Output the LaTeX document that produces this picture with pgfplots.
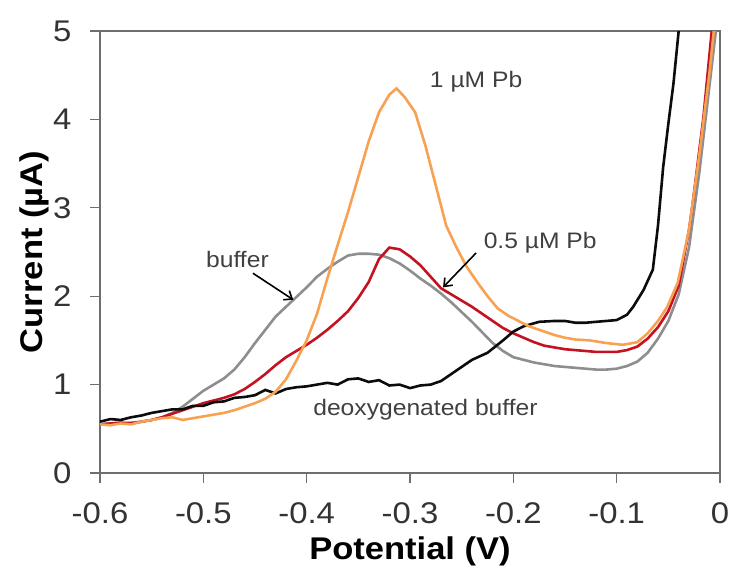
\documentclass[border=0pt]{standalone}
\usepackage{fontspec}
\setmainfont{Liberation Sans}[FakeStretch=1.1]
\usepackage{pgfplots}
\pgfplotsset{compat=1.18}
\usetikzlibrary{arrows.meta}
\definecolor{cOrange}{RGB}{247,162,82}
\definecolor{cRed}{RGB}{196,18,34}
\definecolor{cGray}{RGB}{142,142,142}
\definecolor{cBlack}{RGB}{12,12,12}
\definecolor{cTick}{RGB}{51,51,51}
\definecolor{cAnn}{RGB}{64,64,64}
\definecolor{cFrame}{RGB}{110,110,110}
\begin{document}
\begin{tikzpicture}
\begin{axis}[
  at={(0,0)}, anchor=south west,
  width=620bp, height=442bp, scale only axis,
  xmin=-0.6, xmax=0, ymin=0, ymax=5,
  xtick={-0.6,-0.5,-0.4,-0.3,-0.2,-0.1,0},
  xticklabels={-0.6,-0.5,-0.4,-0.3,-0.2,-0.1,0},
  ytick={0,1,2,3,4,5},
  yticklabels={0,1,2,3,4,5},
  tick pos=left, tick align=outside,
  major tick length=10bp,
  every tick/.style={cFrame, line width=1.3bp},
  axis line style={cFrame, line width=1.3bp},
  ticklabel style={font=\fontsize{30}{32}\selectfont, text=cTick},
  xticklabel style={yshift=-16bp},
  yticklabel style={xshift=-15bp},
  xlabel={\bfseries Potential (V)},
  ylabel={\bfseries Current (µA)},
  label style={font=\fontsize{31.5}{34}\selectfont, text=black},
  xlabel style={at={(axis description cs:0.5,-0.1765)}, anchor=center},
  ylabel style={at={(axis description cs:-0.1065,0.5)}, anchor=center, rotate=0},
  clip=true,
]
% buffer (gray)
\addplot[cGray, line width=2.6bp] coordinates {
(-0.600,0.55)(-0.590,0.56)(-0.580,0.56)(-0.570,0.57)(-0.560,0.58)(-0.550,0.60)
(-0.540,0.63)(-0.530,0.68)(-0.520,0.75)(-0.510,0.84)(-0.500,0.93)(-0.490,1.00)
(-0.480,1.07)(-0.470,1.17)(-0.460,1.31)(-0.450,1.47)(-0.440,1.62)(-0.430,1.77)
(-0.420,1.88)(-0.410,1.99)(-0.400,2.10)(-0.390,2.22)(-0.380,2.31)(-0.370,2.39)
(-0.360,2.46)(-0.350,2.48)(-0.340,2.48)(-0.330,2.47)(-0.320,2.43)(-0.310,2.37)
(-0.300,2.29)(-0.290,2.20)(-0.280,2.12)(-0.270,2.03)(-0.260,1.93)(-0.250,1.82)
(-0.240,1.71)(-0.230,1.59)(-0.220,1.47)(-0.210,1.38)(-0.200,1.31)(-0.190,1.28)
(-0.180,1.25)(-0.170,1.23)(-0.160,1.21)(-0.150,1.20)(-0.140,1.19)(-0.130,1.18)
(-0.120,1.17)(-0.110,1.17)(-0.100,1.18)(-0.090,1.21)(-0.080,1.26)(-0.070,1.36)
(-0.060,1.52)(-0.050,1.72)(-0.040,2.02)(-0.030,2.55)(-0.020,3.40)(-0.010,4.40)
(-0.004,5.0)};
% 0.5 uM Pb (red)
\addplot[cRed, line width=2.6bp] coordinates {
(-0.600,0.55)(-0.590,0.56)(-0.580,0.57)(-0.570,0.56)(-0.560,0.58)(-0.550,0.60)
(-0.540,0.63)(-0.530,0.67)(-0.520,0.71)(-0.510,0.75)(-0.500,0.79)(-0.490,0.82)
(-0.480,0.85)(-0.470,0.89)(-0.460,0.95)(-0.450,1.03)(-0.440,1.12)(-0.430,1.22)
(-0.420,1.31)(-0.410,1.38)(-0.400,1.45)(-0.390,1.53)(-0.380,1.62)(-0.370,1.72)
(-0.360,1.83)(-0.350,1.98)(-0.340,2.16)(-0.330,2.42)(-0.320,2.55)(-0.310,2.53)
(-0.300,2.45)(-0.290,2.35)(-0.280,2.22)(-0.270,2.09)(-0.260,2.02)(-0.250,1.95)
(-0.240,1.88)(-0.230,1.80)(-0.220,1.72)(-0.210,1.64)(-0.200,1.58)(-0.190,1.53)
(-0.180,1.48)(-0.170,1.44)(-0.160,1.42)(-0.150,1.40)(-0.140,1.39)(-0.130,1.38)
(-0.120,1.37)(-0.110,1.37)(-0.100,1.37)(-0.090,1.39)(-0.080,1.43)(-0.070,1.52)
(-0.060,1.65)(-0.050,1.83)(-0.040,2.12)(-0.030,2.75)(-0.026,3.09)(-0.016,4.03)
(-0.008,5.0)};
% deoxygenated buffer (black)
\addplot[cBlack, line width=2.6bp] coordinates {
(-0.600,0.58)(-0.590,0.61)(-0.580,0.60)(-0.570,0.63)(-0.560,0.65)(-0.550,0.68)
(-0.540,0.70)(-0.530,0.72)(-0.520,0.72)(-0.510,0.76)(-0.500,0.76)(-0.490,0.80)
(-0.480,0.81)(-0.470,0.85)(-0.460,0.86)(-0.450,0.88)(-0.440,0.94)(-0.430,0.90)
(-0.420,0.95)(-0.410,0.97)(-0.400,0.98)(-0.390,1.00)(-0.380,1.02)(-0.370,1.00)
(-0.360,1.06)(-0.350,1.07)(-0.340,1.03)(-0.330,1.05)(-0.320,0.99)(-0.310,1.00)
(-0.300,0.96)(-0.290,0.99)(-0.280,1.00)(-0.270,1.04)(-0.260,1.12)(-0.250,1.20)
(-0.240,1.28)(-0.225,1.36)(-0.210,1.50)(-0.200,1.60)(-0.190,1.66)(-0.175,1.71)
(-0.160,1.72)(-0.150,1.72)(-0.140,1.70)(-0.130,1.70)(-0.120,1.71)(-0.110,1.72)
(-0.100,1.73)(-0.090,1.79)(-0.084,1.88)(-0.074,2.07)(-0.065,2.30)(-0.060,2.80)
(-0.055,3.46)(-0.050,3.95)(-0.045,4.41)(-0.040,5.0)};
% 1 uM Pb (orange)
\addplot[cOrange, line width=2.6bp] coordinates {
(-0.600,0.55)(-0.590,0.54)(-0.580,0.56)(-0.570,0.55)(-0.560,0.58)(-0.550,0.60)
(-0.540,0.62)(-0.530,0.63)(-0.520,0.60)(-0.510,0.62)(-0.500,0.64)(-0.490,0.66)
(-0.480,0.68)(-0.470,0.71)(-0.460,0.75)(-0.450,0.79)(-0.440,0.84)(-0.430,0.92)
(-0.420,1.06)(-0.410,1.27)(-0.400,1.50)(-0.390,1.80)(-0.380,2.20)(-0.370,2.58)
(-0.360,2.95)(-0.350,3.35)(-0.340,3.75)(-0.330,4.08)(-0.320,4.28)(-0.313,4.35)
(-0.305,4.25)(-0.295,4.08)(-0.285,3.70)(-0.275,3.25)(-0.265,2.80)(-0.255,2.55)
(-0.245,2.33)(-0.235,2.16)(-0.225,2.00)(-0.215,1.86)(-0.205,1.78)(-0.195,1.72)
(-0.185,1.66)(-0.175,1.62)(-0.160,1.56)(-0.150,1.53)(-0.140,1.51)(-0.126,1.50)
(-0.110,1.47)(-0.094,1.45)(-0.080,1.48)(-0.070,1.58)(-0.060,1.72)(-0.051,1.88)
(-0.041,2.15)(-0.030,2.75)(-0.020,3.60)(-0.010,4.55)(-0.006,5.0)};
% annotations
\node[font=\fontsize{22.5}{25}\selectfont, text=cAnn] at (axis cs:-0.236,4.43) {1 µM Pb};
\node[font=\fontsize{22.5}{25}\selectfont, text=cAnn] at (axis cs:-0.174,2.61) {0.5 µM Pb};
\node[font=\fontsize{22.5}{25}\selectfont, text=cAnn] at (axis cs:-0.467,2.41) {buffer};
\node[font=\fontsize{22.5}{25}\selectfont, text=cAnn] at (axis cs:-0.285,0.72) {deoxygenated buffer};
\draw[black, line width=1.6bp, -{Straight Barb[length=7bp,width=11bp]}] (axis cs:-0.452,2.26) -- (axis cs:-0.413,1.96);
\draw[black, line width=1.6bp, -{Straight Barb[length=7bp,width=11bp]}] (axis cs:-0.236,2.49) -- (axis cs:-0.268,2.10);
\end{axis}
\pgfresetboundingbox
\path[use as bounding box] (-100bp,-108bp) rectangle (646bp,473bp);
\end{tikzpicture}
\end{document}
